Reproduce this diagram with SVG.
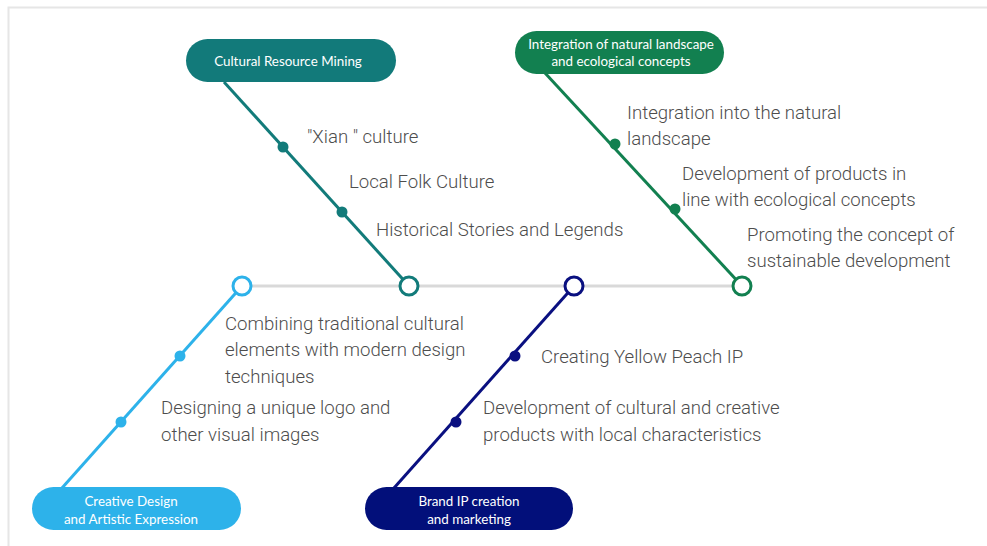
<svg xmlns="http://www.w3.org/2000/svg" width="987" height="546" viewBox="0 0 987 546">
<defs>
<style>
.lbl{font-family:Roboto,"Liberation Sans",sans-serif;font-size:18.6px;font-weight:300;fill:#4d4d4d;}
.box-t{font-family:Lato,"Open Sans","Liberation Sans",sans-serif;font-size:13.4px;fill:#ffffff;text-anchor:middle;}
.ring{fill:#ffffff;stroke-width:3;}
.bone{stroke-width:3;fill:none;}
</style>
</defs>
<rect x="0" y="0" width="987" height="546" fill="#ffffff"/>
<path d="M8.5 546 V7.5 H987" fill="none" stroke="#e6e6e6" stroke-width="2"/>
<g id="connectors">
<line x1="242" y1="286" x2="742" y2="286" stroke="#d9d9d9" stroke-width="3"/>
<line class="bone" x1="409" y1="286" x2="224" y2="82" stroke="#127b7a"/>
<line class="bone" x1="742" y1="286" x2="545" y2="73" stroke="#128050"/>
<line class="bone" x1="242" y1="286" x2="62" y2="488" stroke="#2db2ea"/>
<line class="bone" x1="574" y1="286" x2="394" y2="488" stroke="#0a1080"/>
<circle cx="283" cy="147" r="5.5" fill="#127b7a"/>
<circle cx="342" cy="212" r="5.5" fill="#127b7a"/>
<circle cx="615" cy="144" r="5.5" fill="#128050"/>
<circle cx="675" cy="209" r="5.5" fill="#128050"/>
<circle cx="180" cy="356" r="5.5" fill="#2db2ea"/>
<circle cx="121" cy="422" r="5.5" fill="#2db2ea"/>
<circle cx="515" cy="356" r="5.5" fill="#0a1080"/>
<circle cx="456" cy="422" r="5.5" fill="#0a1080"/>
<circle class="ring" cx="242" cy="286" r="9" stroke="#2db2ea"/>
<circle class="ring" cx="409" cy="286" r="9" stroke="#127b7a"/>
<circle class="ring" cx="574" cy="286" r="9" stroke="#0a1080"/>
<circle class="ring" cx="742" cy="286" r="9" stroke="#128050"/>
</g>
<g id="node-cultural">
<rect x="186" y="39" width="210" height="43" rx="21.5" fill="#127a7a"/>
<text class="box-t" x="288" y="65.5">Cultural Resource Mining</text>
</g>
<g id="node-natural">
<rect x="515" y="31" width="209" height="43" rx="21.5" fill="#128050"/>
<text class="box-t" x="621" y="49">Integration of natural landscape</text>
<text class="box-t" x="621" y="66">and ecological concepts</text>
</g>
<g id="node-creative">
<rect x="32" y="487" width="209" height="43" rx="21.5" fill="#2db2ea"/>
<text class="box-t" x="131" y="506">Creative Design</text>
<text class="box-t" x="131" y="523.5">and Artistic Expression</text>
</g>
<g id="node-brand">
<rect x="365" y="487" width="208" height="43" rx="21.5" fill="#020f7a"/>
<text class="box-t" x="469" y="506">Brand IP creation</text>
<text class="box-t" x="469" y="523.5">and marketing</text>
</g>
<g id="labels">
<text class="lbl" x="307" y="143">"Xian " culture</text>
<text class="lbl" x="349" y="188">Local Folk Culture</text>
<text class="lbl" x="376" y="236">Historical Stories and Legends</text>
<text class="lbl" x="627" y="119">Integration into the natural</text>
<text class="lbl" x="627" y="145">landscape</text>
<text class="lbl" x="682" y="180">Development of products in</text>
<text class="lbl" x="682" y="206">line with ecological concepts</text>
<text class="lbl" x="747" y="241">Promoting the concept of</text>
<text class="lbl" x="747" y="267">sustainable development</text>
<text class="lbl" x="225" y="330">Combining traditional cultural</text>
<text class="lbl" x="225" y="356">elements with modern design</text>
<text class="lbl" x="225" y="383">techniques</text>
<text class="lbl" x="161" y="414">Designing a unique logo and</text>
<text class="lbl" x="161" y="441">other visual images</text>
<text class="lbl" x="541" y="363">Creating Yellow Peach IP</text>
<text class="lbl" x="483" y="414">Development of cultural and creative</text>
<text class="lbl" x="483" y="441">products with local characteristics</text>
</g>
</svg>
